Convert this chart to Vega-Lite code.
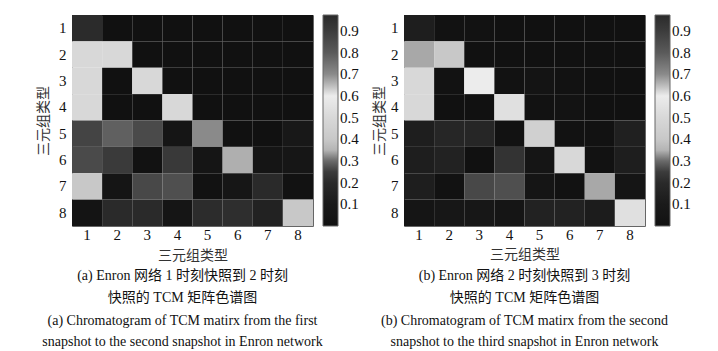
{
  "$schema": "https://vega.github.io/schema/vega-lite/v6.json",
  "background": "white",
  "padding": {"left": 36, "top": 14, "right": 0, "bottom": 0},
  "datasets": {
    "a": [
      {"r":1,"c":1,"v":0.97},{"r":1,"c":2,"v":0},{"r":1,"c":3,"v":0},{"r":1,"c":4,"v":0},{"r":1,"c":5,"v":0},{"r":1,"c":6,"v":0},{"r":1,"c":7,"v":0},{"r":1,"c":8,"v":0},
      {"r":2,"c":1,"v":0.5},{"r":2,"c":2,"v":0.5},{"r":2,"c":3,"v":0},{"r":2,"c":4,"v":0},{"r":2,"c":5,"v":0},{"r":2,"c":6,"v":0},{"r":2,"c":7,"v":0},{"r":2,"c":8,"v":0},
      {"r":3,"c":1,"v":0.5},{"r":3,"c":2,"v":0},{"r":3,"c":3,"v":0.5},{"r":3,"c":4,"v":0},{"r":3,"c":5,"v":0},{"r":3,"c":6,"v":0},{"r":3,"c":7,"v":0},{"r":3,"c":8,"v":0},
      {"r":4,"c":1,"v":0.5},{"r":4,"c":2,"v":0},{"r":4,"c":3,"v":0},{"r":4,"c":4,"v":0.5},{"r":4,"c":5,"v":0},{"r":4,"c":6,"v":0},{"r":4,"c":7,"v":0},{"r":4,"c":8,"v":0},
      {"r":5,"c":1,"v":0.27},{"r":5,"c":2,"v":0.292},{"r":5,"c":3,"v":0.275},{"r":5,"c":4,"v":0.04},{"r":5,"c":5,"v":0.322},{"r":5,"c":6,"v":0},{"r":5,"c":7,"v":0},{"r":5,"c":8,"v":0.08},
      {"r":6,"c":1,"v":0.275},{"r":6,"c":2,"v":0.243},{"r":6,"c":3,"v":0.01},{"r":6,"c":4,"v":0.24},{"r":6,"c":5,"v":0.04},{"r":6,"c":6,"v":0.347},{"r":6,"c":7,"v":0.04},{"r":6,"c":8,"v":0.05},
      {"r":7,"c":1,"v":0.4},{"r":7,"c":2,"v":0.04},{"r":7,"c":3,"v":0.273},{"r":7,"c":4,"v":0.279},{"r":7,"c":5,"v":0.01},{"r":7,"c":6,"v":0.05},{"r":7,"c":7,"v":0.2},{"r":7,"c":8,"v":0.01},
      {"r":8,"c":1,"v":0.03},{"r":8,"c":2,"v":0.2},{"r":8,"c":3,"v":0.2},{"r":8,"c":4,"v":0.04},{"r":8,"c":5,"v":0.205},{"r":8,"c":6,"v":0.21},{"r":8,"c":7,"v":0.15},{"r":8,"c":8,"v":0.4}
    ],
    "b": [
      {"r":1,"c":1,"v":0.125},{"r":1,"c":2,"v":0.01},{"r":1,"c":3,"v":0.01},{"r":1,"c":4,"v":0},{"r":1,"c":5,"v":0},{"r":1,"c":6,"v":0},{"r":1,"c":7,"v":0},{"r":1,"c":8,"v":0},
      {"r":2,"c":1,"v":0.342},{"r":2,"c":2,"v":0.4},{"r":2,"c":3,"v":0},{"r":2,"c":4,"v":0},{"r":2,"c":5,"v":0},{"r":2,"c":6,"v":0},{"r":2,"c":7,"v":0},{"r":2,"c":8,"v":0},
      {"r":3,"c":1,"v":0.5},{"r":3,"c":2,"v":0.01},{"r":3,"c":3,"v":0.6},{"r":3,"c":4,"v":0.01},{"r":3,"c":5,"v":0.03},{"r":3,"c":6,"v":0.01},{"r":3,"c":7,"v":0},{"r":3,"c":8,"v":0},
      {"r":4,"c":1,"v":0.5},{"r":4,"c":2,"v":0},{"r":4,"c":3,"v":0},{"r":4,"c":4,"v":0.54},{"r":4,"c":5,"v":0.01},{"r":4,"c":6,"v":0.02},{"r":4,"c":7,"v":0},{"r":4,"c":8,"v":0},
      {"r":5,"c":1,"v":0.125},{"r":5,"c":2,"v":0.175},{"r":5,"c":3,"v":0.175},{"r":5,"c":4,"v":0.01},{"r":5,"c":5,"v":0.45},{"r":5,"c":6,"v":0.01},{"r":5,"c":7,"v":0.01},{"r":5,"c":8,"v":0.14},
      {"r":6,"c":1,"v":0.125},{"r":6,"c":2,"v":0.15},{"r":6,"c":3,"v":0},{"r":6,"c":4,"v":0.224},{"r":6,"c":5,"v":0.04},{"r":6,"c":6,"v":0.5},{"r":6,"c":7,"v":0.01},{"r":6,"c":8,"v":0.125},
      {"r":7,"c":1,"v":0.125},{"r":7,"c":2,"v":0.01},{"r":7,"c":3,"v":0.273},{"r":7,"c":4,"v":0.279},{"r":7,"c":5,"v":0.04},{"r":7,"c":6,"v":0.01},{"r":7,"c":7,"v":0.342},{"r":7,"c":8,"v":0.04},
      {"r":8,"c":1,"v":0.04},{"r":8,"c":2,"v":0.06},{"r":8,"c":3,"v":0.06},{"r":8,"c":4,"v":0.04},{"r":8,"c":5,"v":0.15},{"r":8,"c":6,"v":0.15},{"r":8,"c":7,"v":0.11},{"r":8,"c":8,"v":0.54}
    ]
  },
  "config": {
    "view": {"stroke": "#666", "strokeWidth": 1},
    "axis": {
      "labelFont": "Liberation Serif, Times New Roman, serif", "labelFontSize": 15, "labelColor": "#111",
      "titleFont": "Noto Sans CJK SC", "titleFontSize": 14, "titleFontWeight": "normal", "titleColor": "#333",
      "domain": false, "ticks": false, "grid": false, "labelAngle": 0
    },
    "legend": {
      "labelFont": "Liberation Serif, Times New Roman, serif", "labelFontSize": 15, "labelColor": "#111"
    },
    "title": {
      "font": "Liberation Serif, Noto Sans CJK SC", "fontSize": 14, "fontWeight": "normal", "color": "#111",
      "subtitleFont": "Liberation Serif, Times New Roman, serif", "subtitleFontSize": 14, "subtitleColor": "#111"
    }
  },
  "resolve": {"legend": {"color": "independent"}, "scale": {"color": "independent"}},
  "spacing": 12,
  "hconcat": [
    {
      "width": 241, "height": 211,
      "data": {"name": "a"},
      "title": {
        "text": ["(a) Enron 网络 1 时刻快照到 2 时刻", "快照的 TCM 矩阵色谱图"],
        "subtitle": ["(a) Chromatogram of TCM matirx from the first", "snapshot to the second snapshot in Enron network"],
        "orient": "bottom", "anchor": "middle", "frame": "group", "offset": 7, "dx": -10,
        "lineHeight": 22, "subtitleLineHeight": 21, "subtitlePadding": 9
      },
      "mark": {"type": "rect"},
      "encoding": {
        "x": {"field": "c", "type": "ordinal", "scale": {"paddingInner": 0, "paddingOuter": 0}, "axis": {"title": "三元组类型", "labelPadding": 1, "titlePadding": 6}},
        "y": {"field": "r", "type": "ordinal", "scale": {"paddingInner": 0, "paddingOuter": 0}, "axis": {"title": "三元组类型", "labelPadding": 6, "titlePadding": 8}},
        "color": {
          "field": "v", "type": "quantitative",
          "scale": {
            "type": "linear", "zero": false, "nice": false,
            "domain": [0, 0.1, 0.2, 0.27, 0.3, 0.35, 0.4, 0.5, 0.6, 0.64, 0.7, 0.8, 0.9, 0.973],
            "range": ["#111111", "#1a1a1a", "#2a2a2a", "#444444", "#6a6a6a", "#b4b4b4", "#c8c8c8", "#d8d8d8", "#ececec", "#c4c4c4", "#8a8a8a", "#5a5a5a", "#3c3c3c", "#2a2a2a"]
          },
          "legend": {
            "title": null, "type": "gradient", "direction": "vertical", "orient": "right",
            "gradientLength": 211, "gradientThickness": 15, "gradientStrokeColor": "#666", "gradientStrokeWidth": 1,
            "values": [0.1, 0.2, 0.3, 0.4, 0.5, 0.6, 0.7, 0.8, 0.9], "labelOverlap": false, "offset": 10, "labelOffset": 2
          }
        }
      }
    },
    {
      "width": 241, "height": 211,
      "data": {"name": "b"},
      "title": {
        "text": ["(b) Enron 网络 2 时刻快照到 3 时刻", "快照的 TCM 矩阵色谱图"],
        "subtitle": ["(b) Chromatogram of TCM matirx from the second", "snapshot to the third snapshot in Enron network"],
        "orient": "bottom", "anchor": "middle", "frame": "group", "offset": 8,
        "lineHeight": 22, "subtitleLineHeight": 21, "subtitlePadding": 9
      },
      "mark": {"type": "rect"},
      "encoding": {
        "x": {"field": "c", "type": "ordinal", "scale": {"paddingInner": 0, "paddingOuter": 0}, "axis": {"title": "三元组类型", "labelPadding": 1, "titlePadding": 5}},
        "y": {"field": "r", "type": "ordinal", "scale": {"paddingInner": 0, "paddingOuter": 0}, "axis": {"title": "三元组类型", "labelPadding": 6, "titlePadding": 4}},
        "color": {
          "field": "v", "type": "quantitative",
          "scale": {
            "type": "linear", "zero": false, "nice": false,
            "domain": [0, 0.1, 0.2, 0.27, 0.3, 0.35, 0.4, 0.5, 0.6, 0.64, 0.7, 0.8, 0.9, 0.973],
            "range": ["#111111", "#1a1a1a", "#2a2a2a", "#444444", "#6a6a6a", "#b4b4b4", "#c8c8c8", "#d8d8d8", "#ececec", "#c4c4c4", "#8a8a8a", "#5a5a5a", "#3c3c3c", "#2a2a2a"]
          },
          "legend": {
            "title": null, "type": "gradient", "direction": "vertical", "orient": "right",
            "gradientLength": 211, "gradientThickness": 15, "gradientStrokeColor": "#666", "gradientStrokeWidth": 1,
            "values": [0.1, 0.2, 0.3, 0.4, 0.5, 0.6, 0.7, 0.8, 0.9], "labelOverlap": false, "offset": 10, "labelOffset": 2
          }
        }
      }
    }
  ]
}
